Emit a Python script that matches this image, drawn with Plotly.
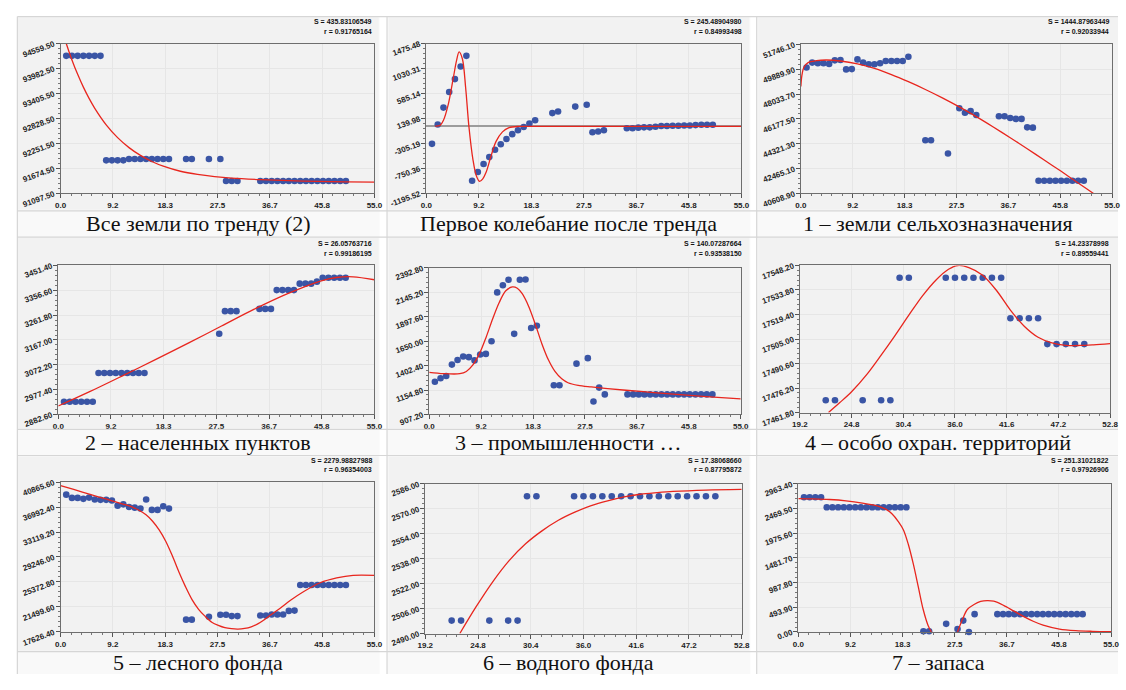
import plotly.graph_objects as go

W, H = 1126, 690

# ---------------- data ----------------
X_FULL = [1, 2, 3, 4, 5, 6, 7, 8, 9, 10, 11, 12, 13, 14, 15, 16, 17, 18, 19,
          22, 23, 26, 28, 29, 30, 31,
          35, 36, 37, 38, 39, 40, 41, 42, 43, 44, 45, 46, 47, 48, 49, 50]
X_LATE = [22, 23, 26, 28, 29, 30, 31,
          35, 36, 37, 38, 39, 40, 41, 42, 43, 44, 45, 46, 47, 48, 49, 50]
X_SETTL = [1, 2, 3, 4, 5, 6, 7, 8, 9, 10, 11, 12, 13, 14, 15,
           28, 29, 30, 31,
           35, 36, 37, 38, 39, 40, 41, 42, 43, 44, 45, 46, 47, 48, 49, 50]

XT_A = ["0.0", "9.2", "18.3", "27.5", "36.7", "45.8", "55.0"]
XT_B = ["19.2", "24.8", "30.4", "36.0", "41.6", "47.2", "52.8"]

titles = ["Все земли по тренду (2)", "Первое колебание после тренда", "1 – земли сельхозназначения",
          "2 – населенных пунктов", "3 – промышленности …", "4 – особо охран. территорий",
          "5 – лесного фонда", "6 – водного фонда", "7 – запаса"]
s_texts = ["S = 435.83106549", "S = 245.48904980", "S = 1444.87963449",
           "S = 26.05763716", "S = 140.07287664", "S = 14.23378998",
           "S = 2279.98827988", "S = 17.38068660", "S = 251.31021822"]
r_texts = ["r = 0.91765164", "r = 0.84993498", "r = 0.92033944",
           "r = 0.99186195", "r = 0.93538150", "r = 0.89559441",
           "r = 0.96354003", "r = 0.87795872", "r = 0.97926906"]

yt1 = ["91097.50", "91674.50", "92251.50", "92828.50", "93405.50", "93982.50", "94559.50"]
yt2 = ["-1195.52", "-750.36", "-305.19", "139.98", "585.14", "1030.31", "1475.48"]
yt3 = ["40608.90", "42465.10", "44321.30", "46177.50", "48033.70", "49889.90", "51746.10"]
yt4 = ["2882.60", "2977.40", "3072.20", "3167.00", "3261.80", "3356.60", "3451.40"]
yt5 = ["907.20", "1154.80", "1402.40", "1650.00", "1897.60", "2145.20", "2392.80"]
yt6 = ["17461.80", "17476.20", "17490.60", "17505.00", "17519.40", "17533.80", "17548.20"]
yt7 = ["17626.40", "21499.60", "25372.80", "29246.00", "33119.20", "36992.40", "40865.60"]
yt8 = ["2490.00", "2506.00", "2522.00", "2538.00", "2554.00", "2570.00", "2586.00"]
yt9 = ["0.00", "493.90", "987.80", "1481.70", "1975.60", "2469.50", "2963.40"]

y1 = [94275] * 7 + [91860] * 4 + [91890] * 8 + [91890, 91890, 91890, 91890] + [91382] * 3 + [91382] * 16
y2 = [-313, 33, 333, 610, 841, 1066, 1256, -971, -815, -671, -549, -417, -319, -226, -140, -71, -13, 50, 108,
      235, 264, 351, 385, -105, -94, -71,
      -36, -36, -24, -19, -19, -7, 4, 4, 10, 10, 15, 15, 21, 27, 27, 27]
y3 = [50027, 50390, 50342, 50342, 50293, 50560, 50584,
      49882, 49906, 50632, 50390, 50269, 50269, 50342, 50511, 50511, 50511, 50511, 50826,
      44580, 44580, 43587, 46977, 46638, 46759, 46468,
      46372, 46372, 46250, 46178, 46178, 45548, 45524] + [41554] * 9
y4 = [2930.8] * 6 + [3040.9] * 9 + [3190.5] + [3277.1] * 3 + [3285.7] * 3 + [3357.4] * 4 + \
     [3382.1] * 3 + [3389.6] + [3404.4] * 5
y5 = [1238.4, 1274.5, 1297.4, 1412.2, 1458.1, 1494.2, 1487.7, 1455.0, 1513.9, 1520.4, 1648.3,
      2143.6, 2215.7, 2271.5, 1723.8, 2271.5, 2274.7, 1782.8, 1805.8,
      1202.3, 1202.3, 1422.0, 1477.8, 1038.4, 1179.4, 1110.5] + [1110.5] * 16
y6 = [17469.0] * 5 + [17541.0] * 2 + [17541.0] * 7 + [17517.2] * 4 + [17502.0] * 5
y7 = [38908, 38406, 38406, 38256, 38456, 38155, 38105, 38105, 38005, 37201, 37402, 37001, 36900, 36750,
      38155, 36549, 36549, 37101, 36750,
      19535, 19535, 19986, 20288, 20288, 20087, 20087,
      20187, 20187, 20338, 20338, 20338, 20890, 20940] + [24905] * 9
y8 = [2498.3] * 5 + [2578.1] * 18
y9 = [2697.5] * 4 + [2496.5] * 15 + [13, 13, 162, 58, 227, 0, 357] + [357] * 16

# fitted curves
f1x = [0.8, 1.0, 2, 3, 4, 5, 6, 8, 10, 12, 14, 16, 18, 21, 24, 27, 30, 35, 40, 45, 50, 55]
f1y = [94650, 94559, 94181, 93847, 93552, 93292, 93063, 92681, 92385, 92154, 91974, 91834, 91725,
       91608, 91535, 91485, 91450, 91415, 91390, 91373, 91362, 91355]
f2x = [1.55, 2.41, 2.98, 3.84, 4.70, 5.28, 5.73, 6.31, 6.88, 7.45, 8.14, 8.72, 9.29, 9.86, 10.44,
       11.30, 12.16, 13.30, 14.45, 16.17, 17.9, 25, 40, 55]
f2y = [4, 16, 102, 391, 852, 1170, 1325, 1199, 679, -13, -590, -878, -982, -936, -821,
       -532, -273, -100, -25, -2, 0, 0, 0, 0]
f3x = [0, 0.17, 0.52, 1.28, 2.73, 4.5, 7, 10, 13, 16, 19, 22, 25, 28, 31, 34, 37, 40, 43, 46, 49, 52, 55]
f3y = [48599, 49398, 50027, 50390, 50535, 50584, 50511, 50294, 49955, 49494, 48962, 48381, 47752,
       47074, 46347, 45573, 44774, 43951, 43103, 42256, 41384, 40513, 39641]
f4x = [0, 5.55, 11.26, 16.98, 22.7, 28.4, 34.1, 39.9, 45.6, 48.4, 51.3, 55]
f4y = [2914.8, 2970.4, 3031.0, 3092.8, 3155.9, 3220.2, 3284.5, 3343.8, 3392.0, 3405.6, 3408.1, 3397.0]
f5x = [0, 2.49, 5.39, 6.55, 7.71, 8.87, 10.03, 11.19, 12.36, 13.52, 14.68, 15.55, 16.42, 17.58, 18.74,
       19.9, 21.06, 22.2, 23.4, 24.5, 26.3, 28.6, 31.5, 37.3, 43.1, 48.9, 55]
f5y = [1333.5, 1320.4, 1320.0, 1343.0, 1409.0, 1523.7, 1687.7, 1874.7, 2041.9, 2159.9, 2199.3, 2186.0,
       2130.4, 1999.3, 1819.0, 1622.0, 1458.0, 1343.0, 1268.0, 1228.6, 1202.0, 1186.0, 1169.5, 1140.0,
       1113.8, 1087.6, 1064.6]
f6x = [22.3, 23.5, 24.8, 26.5, 28.0, 29.5, 31.0, 32.5, 34.0, 35.3, 36.3, 37.5, 39.0, 40.5, 42.0, 43.5,
       45.0, 46.5, 48.0, 49.5, 51.0, 52.8]
f6y = [17461.8, 17467.5, 17474.0, 17484.5, 17495.5, 17507.0, 17519.0, 17530.5, 17540.0, 17546.0, 17548.2,
       17547.0, 17542.5, 17533.5, 17522.0, 17512.5, 17506.0, 17502.7, 17501.3, 17501.2, 17501.6, 17502.3]
f7x = [0, 2.3, 5.18, 8.06, 10.94, 12.67, 13.82, 14.98, 16.13, 17.28, 18.43, 19.59, 20.74, 21.89, 23.04,
       24.19, 25.35, 26.5, 27.65, 28.8, 29.95, 31.1, 32.26, 33.41, 34.56, 35.71, 36.87, 38.6, 40.3,
       42.63, 45.5, 48.39, 51.27, 55]
f7y = [40313, 39711, 38958, 38206, 37453, 36951, 36449, 35796, 34792, 33437, 31681, 29422, 26913, 24654,
       22647, 21141, 20037, 19134, 18632, 18280, 18130, 18080, 18180, 18431, 18882, 19535, 20288, 21392,
       22546, 23901, 25256, 26009, 26410, 26410]
f8x = [22.87, 24.6, 26.36, 28.1, 29.85, 31.59, 33.33, 35.08, 36.82, 38.56, 40.3, 42.05, 43.8, 45.5, 49.0, 52.8]
f8y = [2490.0, 2507.2, 2523.2, 2536.8, 2547.6, 2555.9, 2562.7, 2567.9, 2572.1, 2575.2, 2577.7, 2579.4,
       2580.4, 2581.2, 2582.1, 2582.5]
f9x = [0, 2.6, 5.49, 8.38, 11.27, 14.15, 15.3, 16.46, 17.62, 18.49, 19.35, 20.22, 21.09, 21.95, 22.82, 23.4,
       None,
       28.0, 28.89, 29.75, 30.9, 32.06, 33.2, 34.37, 36.1, 37.84, 39.57, 41.3, 43.04, 45.93, 48.8, 51.7, 55]
f9y = [2671.6, 2665, 2652, 2626, 2581, 2516, 2464, 2367, 2205, 2043, 1751, 1362, 908, 454, 130, 0,
       None,
       0, 259, 454, 551, 610, 629, 616, 532, 422, 311, 214, 136, 58, 26, 13, 6]

# ---------------- layout geometry (pixels) ----------------
plot_boxes = [  # x0, x1, ytop, ybottom
    (53.3, 371.7, 40.7, 195.0), (424.3, 744.0, 40.7, 195.0), (804.3, 1120.0, 41.7, 195.0),
    (51.0, 371.7, 269.3, 422.7), (427.3, 743.3, 271.7, 422.7), (803.3, 1118.0, 269.3, 420.7),
    (53.3, 371.7, 492.3, 646.7), (423.3, 744.3, 494.3, 648.3), (801.7, 1119.0, 494.3, 646.7),
]
panels = [
    (X_FULL, y1, f1x, f1y, yt1, XT_A), (X_FULL, y2, f2x, f2y, yt2, XT_A), (X_FULL, y3, f3x, f3y, yt3, XT_A),
    (X_SETTL, y4, f4x, f4y, yt4, XT_A), (X_FULL, y5, f5x, f5y, yt5, XT_A), (X_LATE, y6, f6x, f6y, yt6, XT_B),
    (X_FULL, y7, f7x, f7y, yt7, XT_A), (X_LATE, y8, f8x, f8y, yt8, XT_B), (X_FULL, y9, f9x, f9y, yt9, XT_A),
]
col_left = [10, 386, 761]
col_right = [376, 752, 1126]
chart_rows = [(14, 212), (241, 437), (466, 666)]
caption_y = [226.5, 451.5, 678.5]
sr_y = [(18, 28), (246.5, 256.5), (470, 479.5)]

BLUE = "#3a55a5"
RED = "#e8261e"
SERIF = "Liberation Serif, 'Times New Roman', 'DejaVu Serif', serif"


def fx(p):
    return p / W


def fy(p):
    return 1 - p / H


def lin(a, b, n=7):
    return [a + (b - a) * i / (n - 1) for i in range(n)]


fig = go.Figure()
layout = dict(width=W, height=H, margin=dict(l=0, r=0, t=0, b=0),
              paper_bgcolor="#ffffff", plot_bgcolor="#ffffff", showlegend=False)
shapes = []
annotations = []

# table cells
for r, (t, b) in enumerate(chart_rows):
    for c in range(3):
        shapes.append(dict(type="rect", xref="paper", yref="paper", layer="below",
                           x0=fx(col_left[c] - 1), x1=fx(col_right[c] + 1 if c < 2 else W),
                           y0=fy(t - 1), y1=fy(H if r == 2 else chart_rows[r + 1][0] - 1),
                           fillcolor="#f9f9f9", line=dict(width=0)))
        shapes.append(dict(type="rect", xref="paper", yref="paper", layer="below",
                           x0=fx(col_left[c]), x1=fx(col_right[c]), y0=fy(t), y1=fy(b),
                           fillcolor="#f2f2f2", line=dict(width=0)))
for xv in [9.5, 384.5, 759.5]:
    shapes.append(dict(type="line", xref="paper", yref="paper", x0=fx(xv), x1=fx(xv), y0=fy(13), y1=0,
                       line=dict(color="#d6d6d6", width=1.2)))
for yv in [13, 213, 240, 438, 465, 667]:
    shapes.append(dict(type="line", xref="paper", yref="paper", x0=fx(9.5), x1=1, y0=fy(yv), y1=fy(yv),
                       line=dict(color="#d6d6d6", width=1.2)))

for i, (px, py, ffx, ffy, ytl, xtl) in enumerate(panels):
    k = i + 1
    xa = "x" if k == 1 else f"x{k}"
    ya = "y" if k == 1 else f"y{k}"
    x0, x1, yt, yb = plot_boxes[i]
    xlo, xhi = float(xtl[0]), float(xtl[-1])
    ylo, yhi = float(ytl[0]), float(ytl[-1])
    xtv = lin(xlo, xhi)
    ytv = lin(ylo, yhi)
    tickfont = dict(family="Liberation Sans, Arial, sans-serif", size=8, color="#222222", weight="bold")
    common = dict(showgrid=True, gridcolor="#e6e6e6", gridwidth=1, showline=True, linecolor="#6e6e6e",
                  linewidth=1, mirror=True, ticks="outside", ticklen=4, tickcolor="#555555",
                  tickfont=tickfont, zeroline=False, fixedrange=True, tickmode="array")
    layout["xaxis" + ("" if k == 1 else str(k))] = dict(
        common, domain=[fx(x0), fx(x1)], range=[xlo, xhi], tickvals=xtv, ticktext=xtl, anchor=ya,
        minor=dict(tickmode="linear", tick0=xlo, dtick=(xhi - xlo) / 30, ticks="outside", ticklen=2,
                   tickcolor="#777777", showgrid=False))
    yax = dict(common, domain=[fy(yb), fy(yt)], range=[ylo, yhi], tickvals=ytv, ticktext=ytl, anchor=xa,
               tickangle=-20,
               minor=dict(tickmode="linear", tick0=ylo, dtick=(yhi - ylo) / 30, ticks="outside", ticklen=2,
                          tickcolor="#777777", showgrid=False))
    if k == 2:
        yax.update(zeroline=True, zerolinecolor="#9c9c9c", zerolinewidth=1.6)
    layout["yaxis" + ("" if k == 1 else str(k))] = yax

    fig.add_trace(go.Scatter(x=px, y=py, mode="markers", xaxis=xa, yaxis=ya, cliponaxis=False,
                             marker=dict(color=BLUE, size=6.6, line=dict(width=0)), hoverinfo="x+y"))
    fig.add_trace(go.Scatter(x=ffx, y=ffy, mode="lines", xaxis=xa, yaxis=ya, connectgaps=False,
                             line=dict(color=RED, width=1.3, shape="spline", smoothing=0.9),
                             hoverinfo="skip"))

    r, c = divmod(i, 3)
    for txt, yy in ((s_texts[i], sr_y[r][0]), (r_texts[i], sr_y[r][1])):
        annotations.append(dict(xref="paper", yref="paper", x=fx(col_right[c] - 5 if c < 2 else 1119),
                                y=fy(yy), xanchor="right", yanchor="middle", showarrow=False, text=txt,
                                font=dict(family="Liberation Sans, Arial, sans-serif", size=7, color="#111",
                                          weight="bold")))
    annotations.append(dict(xref="paper", yref="paper", x=fx((col_left[c] + col_right[c]) / 2),
                            y=fy(caption_y[r]), xanchor="center", yanchor="middle", showarrow=False,
                            text=titles[i], font=dict(family=SERIF, size=22, color="#111")))

layout["shapes"] = shapes
layout["annotations"] = annotations
fig.update_layout(**layout)
fig.write_html("out.html")
